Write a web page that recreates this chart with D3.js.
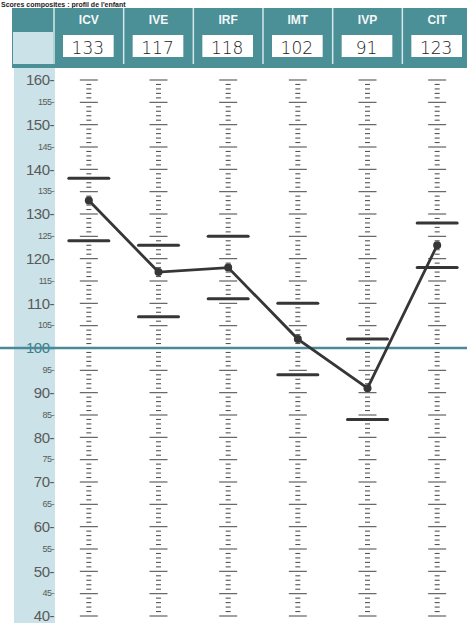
<!DOCTYPE html>
<html>
<head>
<meta charset="utf-8">
<script src="https://cdn.jsdelivr.net/npm/d3@7"></script>
<style>
  body { margin: 0; background: #fff; }
  svg { display: block; }
</style>
</head>
<body>
<div id="chart"></div>
<script>
// index names, scores and confidence intervals
var indices = ["ICV", "IVE", "IRF", "IMT", "IVP", "CIT"];
var scores = [133, 117, 118, 102, 91, 123];
var ciLow = [124, 107, 111, 94, 84, 118];
var ciHigh = [138, 123, 125, 110, 102, 128];
var scoreLabels = ["133", "117", "118", "102", "91", "123"];

var width = 467, height = 623;

var svg = d3.select("#chart").append("svg")
    .attr("width", width)
    .attr("height", height);

var xScale = d3.scaleBand()
    .domain(indices)
    .range([54, 472])
    .padding(0);

var yScale = d3.scaleLinear()
    .domain([40, 160])
    .range([616, 80]);

var teal = "#4b8f97",
    lightBlue = "#cbe2e8",
    ink = "#363636";

// small title above the header
svg.append("text")
    .attr("x", 1)
    .attr("y", 6.5)
    .style("font-family", "Liberation Sans, Arial, sans-serif")
    .style("font-weight", "bold")
    .style("font-size", "7px")
    .attr("fill", "#222")
    .text("Scores composites : profil de l'enfant");

// left label strip
svg.append("rect")
    .attr("x", 14).attr("y", 68)
    .attr("width", 41).attr("height", height - 68)
    .attr("fill", lightBlue);

// header band
svg.append("rect")
    .attr("x", 12).attr("y", 8)
    .attr("width", width - 12).attr("height", 60)
    .attr("fill", teal);

svg.append("rect")
    .attr("x", 13).attr("y", 32)
    .attr("width", 40).attr("height", 32)
    .attr("fill", lightBlue);

// column separators in header
svg.selectAll(".sep")
    .data(indices)
    .enter()
    .append("line")
        .attr("x1", function(d) { return xScale(d); })
        .attr("x2", function(d) { return xScale(d); })
        .attr("y1", 8)
        .attr("y2", 64)
        .attr("stroke", "#d6e8ec")
        .attr("stroke-width", 1.5);

// header labels
svg.selectAll(".hdr")
    .data(indices)
    .enter()
    .append("text")
        .attr("x", function(d) { return xScale(d) + xScale.bandwidth() / 2; })
        .attr("y", 24)
        .attr("text-anchor", "middle")
        .style("font-family", "Liberation Sans Narrow, Liberation Sans, Arial, sans-serif")
        .style("font-weight", "bold")
        .style("font-size", "12px")
        .attr("fill", "#f4f8f8")
        .text(function(d) { return d; });

// white score boxes
svg.selectAll(".box")
    .data(indices)
    .enter()
    .append("rect")
        .attr("x", function(d) { return xScale(d) + 9; })
        .attr("y", 35)
        .attr("width", xScale.bandwidth() - 19)
        .attr("height", 22)
        .attr("fill", "#fff");

svg.selectAll(".val")
    .data(indices)
    .enter()
    .append("text")
        .attr("x", function(d) { return xScale(d) + xScale.bandwidth() / 2 - 1; })
        .attr("y", 54)
        .attr("text-anchor", "middle")
        .style("font-family", "DejaVu Sans, sans-serif")
        .style("font-weight", "300")
        .style("font-size", "17px")
        .attr("fill", "#222")
        .text(function(d, i) { return scoreLabels[i]; });

// y axis labels (every 5)
var yTicks = d3.range(40, 161, 5);
svg.selectAll(".ylab")
    .data(yTicks)
    .enter()
    .append("text")
        .attr("x", 54)
        .attr("y", function(d) { return yScale(d); })
        .attr("dy", function(d) { return d % 10 == 0 ? "0.36em" : "0.3em"; })
        .attr("text-anchor", "end")
        .style("font-family", "Liberation Sans Narrow, Liberation Sans, Arial, sans-serif")
        .style("font-size", function(d) { return d % 10 == 0 ? "15px" : "9px"; })
        .style("letter-spacing", "-0.5px")
        .attr("fill", function(d) { return d == 100 ? "#3d7f8c" : "#5a5a5a"; })
        .text(function(d) { return d + "-"; });

// graduated scale in each column
var unitTicks = d3.range(40, 161, 1);
indices.forEach(function(name) {
    var cx = xScale(name) + xScale.bandwidth() / 2;
    svg.append("g")
        .selectAll("line")
        .data(unitTicks)
        .enter()
        .append("line")
            .attr("x1", function(d) { return cx - (d % 5 == 0 ? 9 : 2.5); })
            .attr("x2", function(d) { return cx + (d % 5 == 0 ? 9 : 2.5); })
            .attr("y1", function(d) { return yScale(d); })
            .attr("y2", function(d) { return yScale(d); })
            .attr("stroke", "#555")
            .attr("stroke-width", 1.1);
});

// reference line at 100
svg.append("line")
    .attr("x1", 0)
    .attr("x2", width)
    .attr("y1", yScale(100))
    .attr("y2", yScale(100))
    .attr("stroke", "#4a8a98")
    .attr("stroke-width", 2.5);

// confidence interval bars
var ciData = indices.map(function(d, i) { return {name: d, lo: ciLow[i], hi: ciHigh[i]}; });
["lo", "hi"].forEach(function(key) {
    svg.selectAll(".ci-" + key)
        .data(ciData)
        .enter()
        .append("line")
            .attr("x1", function(d) { return xScale(d.name) + xScale.bandwidth() / 2 - 20; })
            .attr("x2", function(d) { return xScale(d.name) + xScale.bandwidth() / 2 + 20; })
            .attr("y1", function(d) { return yScale(d[key]); })
            .attr("y2", function(d) { return yScale(d[key]); })
            .attr("stroke", ink)
            .attr("stroke-width", 3)
            .attr("stroke-linecap", "round");
});

// profile line
var line = d3.line()
    .x(function(d, i) { return xScale(indices[i]) + xScale.bandwidth() / 2; })
    .y(function(d) { return yScale(d); });

svg.append("path")
    .datum(scores)
    .attr("d", line)
    .attr("fill", "none")
    .attr("stroke", ink)
    .attr("stroke-width", 2.8);

svg.selectAll(".pt")
    .data(scores)
    .enter()
    .append("circle")
        .attr("cx", function(d, i) { return xScale(indices[i]) + xScale.bandwidth() / 2; })
        .attr("cy", function(d) { return yScale(d); })
        .attr("r", 4)
        .attr("fill", ink);
</script>
</body>
</html>
